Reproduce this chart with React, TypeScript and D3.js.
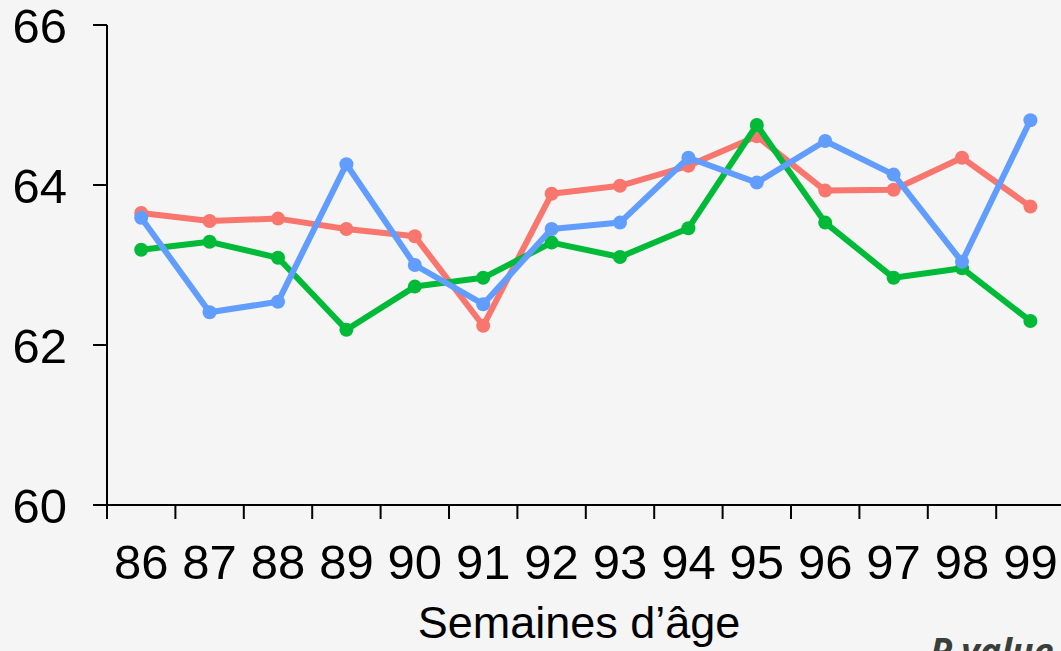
import React from "react";
import * as d3 from "d3";

const weeks = ["86", "87", "88", "89", "90", "91", "92", "93", "94", "95", "96", "97", "98", "99"];
const redValues = [63.65, 63.55, 63.58, 63.45, 63.36, 62.24, 63.89, 63.99, 64.24, 64.61, 63.93, 63.94, 64.34, 63.73];
const greenValues = [63.19, 63.29, 63.09, 62.19, 62.73, 62.84, 63.28, 63.10, 63.46, 64.75, 63.53, 62.84, 62.96, 62.30];
const blueValues = [63.59, 62.41, 62.54, 64.26, 63.00, 62.51, 63.45, 63.53, 64.34, 64.03, 64.55, 64.13, 63.04, 64.81];
const yTicks = [60, 62, 64, 66];
const xTitle = "Semaines d’âge";
const cornerText = "P value";

const series = [
  { name: "red", color: "#F8766D", values: redValues },
  { name: "green", color: "#00BA38", values: greenValues },
  { name: "blue", color: "#619CFF", values: blueValues },
];

export default function App() {
  const W = 1061;
  const H = 651;
  const x0 = 107;
  const bw = 68.4;
  const x = d3.scaleBand<string>().domain(weeks).range([x0, x0 + bw * weeks.length]);
  const y = d3.scaleLinear().domain([60, 66]).range([505, 25]);
  const line = d3
    .line<number>()
    .x((_, i) => (x(weeks[i]) as number) + x.bandwidth() / 2)
    .y((v) => y(v));
  const font = "'Liberation Sans', Arial, sans-serif";
  const boundaries = d3.range(weeks.length + 1).map((i) => x0 + i * x.bandwidth());

  return (
    <div style={{ position: "fixed", left: 0, top: 0, width: W, height: H, overflow: "hidden" }}>
      <svg width={W} height={H} style={{ display: "block", background: "#F5F5F5" }}>
        <rect x={0} y={0} width={W} height={H} fill="#F5F5F5" />
        {/* axes */}
        <line x1={x0} x2={x0} y1={y(66)} y2={y(60)} stroke="#000" strokeWidth={2} />
        <line x1={x0 - 14} x2={W + 10} y1={y(60)} y2={y(60)} stroke="#000" strokeWidth={2} />
        {yTicks.map((t) => (
          <g key={t}>
            <line x1={x0 - 14} x2={x0} y1={y(t)} y2={y(t)} stroke="#000" strokeWidth={2} />
            <text x={67} y={y(t)} dy="0.36em" textAnchor="end" fontFamily={font} fontSize={49} fill="#000">
              {t}
            </text>
          </g>
        ))}
        {boundaries.map((b, i) => (
          <line key={i} x1={b} x2={b} y1={y(60)} y2={y(60) + 14} stroke="#000" strokeWidth={2} />
        ))}
        {weeks.map((w) => (
          <text
            key={w}
            x={(x(w) as number) + x.bandwidth() / 2}
            y={579}
            textAnchor="middle"
            fontFamily={font}
            fontSize={49}
            fill="#000"
          >
            {w}
          </text>
        ))}
        <text x={579} y={638} textAnchor="middle" fontFamily={font} fontSize={45} fill="#000">
          {xTitle}
        </text>
        {/* series */}
        {series.map((s) => (
          <g key={s.name}>
            <path d={line(s.values) || ""} fill="none" stroke={s.color} strokeWidth={6} strokeLinejoin="round" />
            {s.values.map((v, i) => (
              <circle key={i} cx={(x(weeks[i]) as number) + x.bandwidth() / 2} cy={y(v)} r={7} fill={s.color} />
            ))}
          </g>
        ))}
        <text
          x={930}
          y={664}
          fontFamily="'Open Sans', sans-serif"
          fontWeight="bold"
          fontStyle="italic"
          fontSize={36}
          fill="#3A3F3A"
        >
          {cornerText}
        </text>
      </svg>
    </div>
  );
}
